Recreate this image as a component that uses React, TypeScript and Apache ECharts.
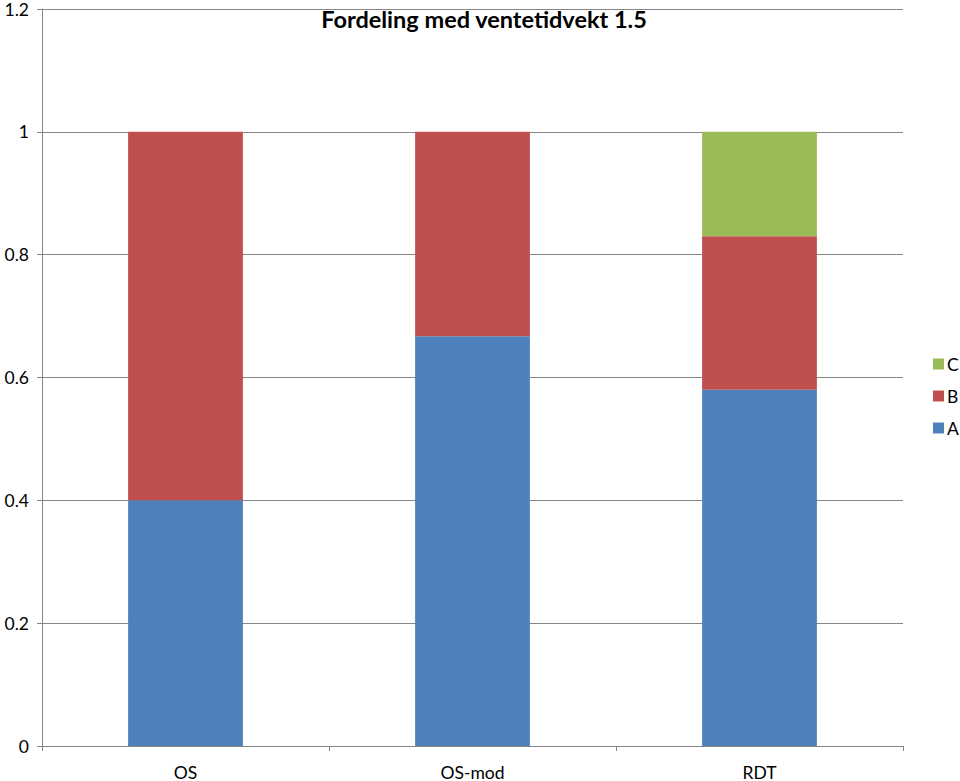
import React, { useEffect, useRef } from "react";
import * as echarts from "echarts";

const categories = ["OS", "OS-mod", "RDT"];
const seriesA = [0.4, 0.667, 0.58];
const seriesB = [0.6, 0.333, 0.25];
const seriesC = [0, 0, 0.17];
const yTicks = { min: 0, max: 1.2, interval: 0.2 };

export default function App() {
  const ref = useRef<HTMLDivElement>(null);
  useEffect(() => {
    if (!ref.current) return;
    const chart = echarts.init(ref.current, null, { renderer: "svg" });
    const font = "Lato, 'Open Sans', sans-serif";
    const gray = "#868686";
    chart.setOption({
      animation: false,
      backgroundColor: "#ffffff",
      title: {
        text: "Fordeling med ventetidvekt 1.5",
        left: 479,
        textAlign: "center",
        top: 2,
        textStyle: { fontFamily: font, fontWeight: "bold", fontSize: 23.5, color: "#000" },
      },
      legend: {
        orient: "vertical",
        left: 928,
        top: 350,
        itemWidth: 11,
        itemHeight: 11,
        itemGap: 14,
        icon: "rect",
        data: ["C", "B", "A"],
        textStyle: { fontFamily: font, fontSize: 17.5, lineHeight: 18, color: "#000", padding: [0, 0, 0, -2] },
      },
      grid: { left: 42, right: 57, top: 8, bottom: 35, containLabel: false },
      xAxis: {
        type: "category",
        data: categories,
        axisLine: { lineStyle: { color: gray } },
        axisTick: { show: true, length: 5, lineStyle: { color: gray } },
        axisLabel: { fontFamily: font, fontSize: 17.5, color: "#000", margin: 17 },
      },
      yAxis: {
        type: "value",
        min: yTicks.min,
        max: yTicks.max,
        interval: yTicks.interval,
        axisLine: { show: true, lineStyle: { color: gray } },
        axisTick: { show: true, length: 5, lineStyle: { color: gray } },
        axisLabel: {
          fontFamily: font,
          fontSize: 17.5,
          color: "#000",
          margin: 13,
          formatter: (v: number) => String(Math.round(v * 10) / 10),
        },
        splitLine: { lineStyle: { color: gray } },
      },
      series: [
        { name: "A", type: "bar", stack: "s", data: seriesA, barWidth: "40%", itemStyle: { color: "#4F81BD" } },
        { name: "B", type: "bar", stack: "s", data: seriesB, itemStyle: { color: "#C0504D" } },
        { name: "C", type: "bar", stack: "s", data: seriesC, itemStyle: { color: "#9BBB59" } },
      ],
    });
    return () => chart.dispose();
  }, []);
  return (
    <div
      ref={ref}
      style={{ position: "fixed", left: 0, top: 0, width: 960, height: 781 }}
    />
  );
}
